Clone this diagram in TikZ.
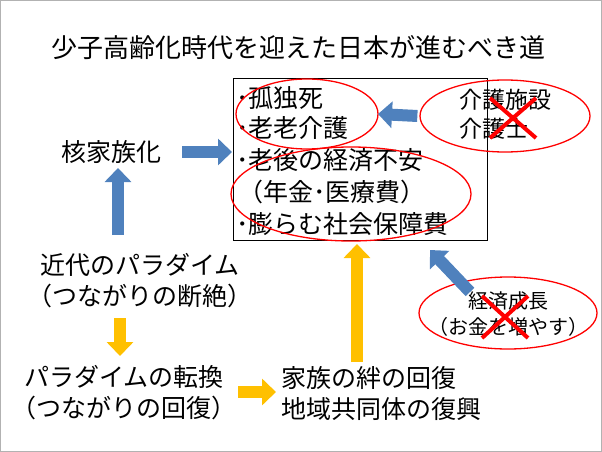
\documentclass[tikz,border=0pt]{standalone}
\usepackage{fontspec}
\setmainfont{Noto Sans CJK JP}
\usetikzlibrary{positioning, arrows.meta, shapes.geometric}
\definecolor{bluearr}{HTML}{4F81BD}
\definecolor{orangearr}{HTML}{FFC000}
\begin{document}
\begin{tikzpicture}[x=1pt, y=-1pt, font=\fontsize{25}{31}\selectfont]
    \tikzstyle{txt} = [inner sep=0pt, anchor=west]
    \tikzstyle{ring} = [ellipse, draw=red, line width=1.3pt]
    \tikzstyle{bluefat} = [line width=12pt, draw=bluearr, -{Triangle[width=26pt, length=14pt]}]
    \tikzstyle{orangefat} = [line width=12pt, draw=orangearr, -{Triangle[width=26pt, length=14pt]}]
    \tikzstyle{cross} = [red, line width=4pt]

    \useasboundingbox (0,0) rectangle (602,452);
    \draw[gray!60] (0.5,0.5) rectangle (601.5,451.5);

    % Title
    \node[font=\fontsize{26}{30}\selectfont] (title) at (298,48) {少子高齢化時代を迎えた日本が進むべき道};

    % Central box
    \draw[black] (233,78) rectangle (487,240);
    \node[txt] (lone) at (236,98) {･孤独死};
    \node[txt] (care) at (236,128) {･老老介護};
    \node[txt] (econ) at (236,160) {･老後の経済不安};
    \node[txt] (pens) at (238,192) {（年金･医療費）};
    \node[txt] (cost) at (236,224) {･膨らむ社会保障費};
    \node[ring, minimum width=142pt, minimum height=70pt] (ringA) at (307,114) {};
    \node[ring, minimum width=240pt, minimum height=94pt] (ringB) at (351,194) {};

    % Right items
    \node[ring, minimum width=170pt, minimum height=72pt] (nurse) at (505,116) {};
    \node[align=left, font=\fontsize{23}{29}\selectfont] (nursetxt) at (505,114) {介護施設\\介護士};
    \draw[cross] (490,98) -- (536,138) (536,98) -- (490,138);
    \node[ring, minimum width=178pt, minimum height=72pt] (growth) at (508,313) {};
    \node[align=center, font=\fontsize{20}{26}\selectfont] (growthtxt) at (508,314) {経済成長\\（お金を増やす）};
    \draw[cross] (482,296) -- (528,338) (528,296) -- (482,338);

    % Left column
    \node (nuclear) at (111,152) {核家族化};
    \node[align=center] (modern) at (140,281) {近代のパラダイム\\（つながりの断絶）};
    \node[align=center] (shift) at (124,393) {パラダイムの転換\\（つながりの回復）};
    \node[align=left, anchor=west] (revive) at (278,394) {家族の絆の回復\\地域共同体の復興};

    % Arrows
    \draw[bluefat] (nurse.west) ++(-2,0) -- (378,114);
    \draw[bluefat] (182,152) -- (232,152);
    \draw[bluefat] (118,235) -- (118,168);
    \draw[bluefat] (470,292) -- (430,250);
    \draw[orangefat] (120,318) -- (120,356);
    \draw[orangefat] (238,392) -- (276,392);
    \draw[orangefat] (357,362) -- (357,244);
\end{tikzpicture}
\end{document}
